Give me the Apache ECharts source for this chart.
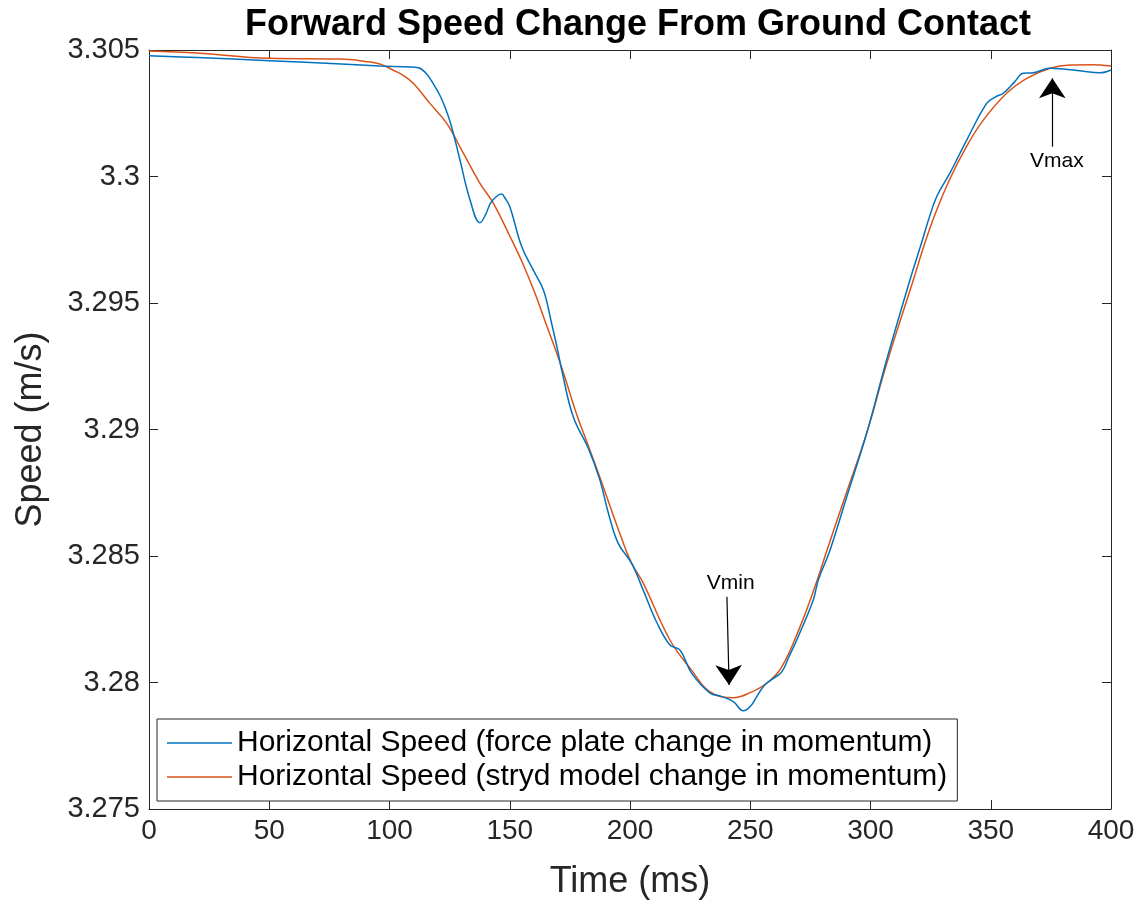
<!DOCTYPE html>
<html>
<head>
<meta charset="utf-8">
<script src="https://cdn.jsdelivr.net/npm/echarts@6/dist/echarts.min.js"></script>
<style>
html,body{margin:0;padding:0;background:#fff;}
#chart{width:1143px;height:905px;}
</style>
</head>
<body>
<div id="chart"></div>
<script>
const titleText = 'Forward Speed Change From Ground Contact';
const xName = 'Time (ms)';
const yName = 'Speed (m/s)';
const seriesNames = ['Horizontal Speed (force plate change in momentum)', 'Horizontal Speed (stryd model change in momentum)'];

const blueTime = [0, 20, 50, 80, 96, 108, 112, 115, 118, 121, 124, 126.5, 129.3, 133.5, 137.6, 140, 142, 145, 146.6, 148, 150, 155, 159.8, 164, 167.4, 170, 171.6, 176.4, 182.7, 187.5, 191, 195.1, 200.7, 205.5, 211, 216.6, 220.8, 225.6, 233.3, 238, 243, 247.1, 250, 252.7, 256, 259.6, 263.1, 266, 269.3, 276.2, 278.3, 283.2, 290, 298.4, 306.7, 316.4, 321.3, 324, 327.5, 333, 340, 348.3, 352, 355.2, 360, 363.5, 367.7, 374.6, 380, 387.1, 395.4, 400];
const blueSpeed = [3.30477, 3.30470, 3.30458, 3.30445, 3.30437, 3.30433, 3.30430, 3.30410, 3.30370, 3.30320, 3.30251, 3.30172, 3.30065, 3.29907, 3.29817, 3.29850, 3.29895, 3.29925, 3.29931, 3.29915, 3.29881, 3.29722, 3.29630, 3.29551, 3.29420, 3.29310, 3.29235, 3.29050, 3.28925, 3.28800, 3.28670, 3.28550, 3.28471, 3.28365, 3.28240, 3.28148, 3.28128, 3.28037, 3.27958, 3.27945, 3.27924, 3.27888, 3.27905, 3.27944, 3.27990, 3.28016, 3.28042, 3.28100, 3.28167, 3.28326, 3.28405, 3.28524, 3.28730, 3.28985, 3.29275, 3.29591, 3.29740, 3.29825, 3.29920, 3.30013, 3.30144, 3.30289, 3.30315, 3.30329, 3.30375, 3.30408, 3.30410, 3.30428, 3.30425, 3.30418, 3.30410, 3.30421];

const orangeTime = [0, 20, 50, 79.4, 90, 96, 101.6, 106, 110, 116.8, 123.8, 130.7, 137.6, 143.2, 150, 155, 160, 165, 171.6, 177.8, 182.7, 187.5, 196.5, 200.7, 205.5, 216.6, 225.6, 233.3, 243, 250, 256.8, 263, 270.7, 277.3, 281.8, 290, 298.4, 306.7, 317.8, 322.7, 326.8, 333, 340, 346.9, 356.6, 365, 374.6, 383, 392, 400];
const orangeSpeed = [3.30496, 3.30488, 3.30467, 3.30464, 3.30455, 3.30445, 3.30420, 3.30398, 3.30368, 3.30289, 3.30210, 3.30092, 3.29973, 3.29894, 3.29765, 3.29665, 3.29550, 3.29420, 3.29245, 3.29060, 3.28935, 3.28810, 3.28570, 3.28471, 3.28393, 3.28168, 3.28049, 3.27963, 3.27940, 3.27960, 3.27997, 3.28060, 3.28220, 3.28390, 3.28520, 3.28750, 3.28985, 3.29260, 3.29591, 3.29740, 3.29850, 3.29990, 3.30120, 3.30223, 3.30329, 3.30388, 3.30428, 3.30441, 3.30442, 3.30437];

const xTicks = {min: 0, max: 400, interval: 50};
const yTicks = {min: 3.275, max: 3.305, interval: 0.005};

// annotations (data coordinates)
const vminArrow = [[240.3, 3.28339], [241.2, 3.27990]];
const vminText = [241.9, 3.28392];
const vmaxArrow = [[375.6, 3.30118], [375.6, 3.30388]];
const vmaxText = [377.5, 3.30062];

const zip = (a, b) => a.map((v, i) => [v, b[i]]);
const FONT = "'Liberation Sans', Helvetica, Arial, sans-serif";
const AX = '#262626';

const chart = echarts.init(document.getElementById('chart'), null, {renderer: 'canvas'});
const baseX = {type: 'value', min: xTicks.min, max: xTicks.max, interval: xTicks.interval};
const baseY = {type: 'value', min: yTicks.min, max: yTicks.max, interval: yTicks.interval};
const tick = {show: true, inside: true, length: 9, lineStyle: {color: AX, width: 1}};
const line = {show: true, onZero: false, lineStyle: {color: AX, width: 1}};

chart.setOption({
  animation: false,
  backgroundColor: '#fff',
  title: {
    text: titleText, left: 633, top: 2, textAlign: 'center',
    textStyle: {fontFamily: FONT, fontWeight: 'bold', fontSize: 36, color: '#000'}
  },
  grid: {left: 149, right: 32, top: 50, bottom: 95, containLabel: false},
  legend: {
    data: seriesNames, orient: 'vertical', left: 157, top: 719,
    icon: 'rect', itemWidth: 65, itemHeight: 1.5, itemGap: 4, padding: [9, 10, 9, 10],
    borderColor: AX, borderWidth: 1, backgroundColor: '#fff',
    textStyle: {fontFamily: FONT, fontSize: 30, color: '#000', lineHeight: 30},
    selectedMode: false
  },
  xAxis: [
    Object.assign({}, baseX, {
      position: 'bottom', name: xName, nameLocation: 'middle', nameGap: 55,
      nameTextStyle: {fontFamily: FONT, fontSize: 36, color: AX},
      axisLine: line, axisTick: tick, splitLine: {show: false},
      axisLabel: {fontFamily: FONT, fontSize: 28, color: AX, margin: 8}
    }),
    Object.assign({}, baseX, {
      position: 'top', axisLine: line, axisTick: tick, splitLine: {show: false},
      axisLabel: {show: false}
    })
  ],
  yAxis: [
    Object.assign({}, baseY, {
      position: 'left', name: yName, nameLocation: 'middle', nameGap: 100, nameRotate: 90,
      nameTextStyle: {fontFamily: FONT, fontSize: 36, color: AX},
      axisLine: line, axisTick: tick, splitLine: {show: false},
      axisLabel: {fontFamily: FONT, fontSize: 29, color: AX, margin: 9,
        formatter: v => String(parseFloat(v.toFixed(3)))}
    }),
    Object.assign({}, baseY, {
      position: 'right', axisLine: line, axisTick: tick, splitLine: {show: false},
      axisLabel: {show: false}
    })
  ],
  series: [
    {
      name: seriesNames[0], type: 'line', xAxisIndex: 0, yAxisIndex: 0,
      data: zip(blueTime, blueSpeed), showSymbol: false, symbol: 'none',
      smooth: 0.4,
      lineStyle: {color: '#0072BD', width: 1.5}, itemStyle: {color: '#0072BD'}, z: 3
    },
    {
      name: seriesNames[1], type: 'line', xAxisIndex: 0, yAxisIndex: 0,
      data: zip(orangeTime, orangeSpeed), showSymbol: false, symbol: 'none',
      smooth: 0.4,
      lineStyle: {color: '#D95319', width: 1.5}, itemStyle: {color: '#D95319'}, z: 2,
      markLine: {
        silent: true, symbol: ['none', 'arrow'], symbolSize: 20,
        lineStyle: {color: '#000', width: 1.2, type: 'solid'},
        itemStyle: {color: '#000'},
        label: {show: false},
        emphasis: {disabled: true},
        data: [
          [{coord: vminArrow[0]}, {coord: vminArrow[1]}],
          [{coord: vmaxArrow[0]}, {coord: vmaxArrow[1]}]
        ]
      },
      markPoint: {
        silent: true, symbol: 'circle', symbolSize: 0,
        label: {show: true, position: 'inside', fontFamily: FONT, fontSize: 21, color: '#000',
          formatter: p => p.name},
        data: [
          {name: 'Vmin', coord: vminText},
          {name: 'Vmax', coord: vmaxText}
        ]
      }
    }
  ]
});
</script>
</body>
</html>
